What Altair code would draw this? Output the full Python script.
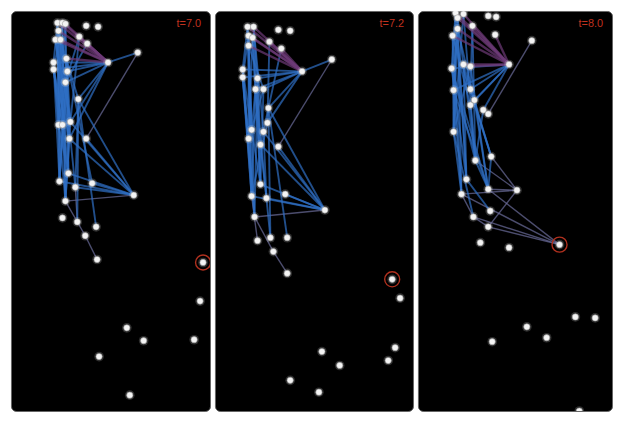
import altair as alt
import pandas as pd

# ---- data (panel-local pixel-like units, origin top-left of each panel) ----
labels = ["t=7.0", "t=7.2", "t=8.0"]

p1_x = [46, 51, 54, 75, 87, 47, 44, 49, 68, 76, 127, 97, 55, 42, 42, 56, 54, 67, 59, 47, 51, 58, 75,
        57, 48, 64, 81, 123, 54, 51, 66, 85, 74, 86, 193, 190, 116, 133, 184, 88, 119]
p1_y = [12, 12, 13, 15, 16, 20, 29, 29, 26, 33, 42, 52, 48, 52, 59, 61, 72, 89, 112, 115, 115, 129, 129,
        164, 172, 178, 174, 186, 192, 209, 213, 218, 227, 251, 254, 293, 320, 333, 332, 349, 388]
p1_red = 34
p1_purple = [(11, a) for a in [0, 1, 2, 5, 6, 7, 8, 9, 12]]
p1_blue = [(11, a) for a in [13, 14, 15, 16, 17, 18, 21]] + [
    (10, 11), (0, 19), (1, 20), (2, 23), (5, 24), (6, 21), (7, 25), (12, 18), (13, 28), (14, 23),
    (15, 19), (16, 24), (17, 25), (12, 26), (8, 18), (9, 16), (19, 23), (20, 24), (21, 28), (18, 28),
    (15, 23), (16, 28), (5, 18), (7, 19), (17, 31), (17, 30), (0, 24), (1, 28), (2, 19), (5, 20),
    (6, 23), (7, 28), (13, 24), (14, 20), (12, 21), (15, 24), (16, 18), (8, 16), (0, 13), (1, 14),
    (2, 16), (5, 15), (6, 18), (7, 17), (13, 19), (14, 21),
    (27, 23), (27, 24), (27, 25), (27, 26), (27, 21), (27, 22), (27, 18), (27, 17)]
p1_gray = [(10, 22), (28, 27), (28, 32), (32, 33), (25, 30)]

p2_x = [31, 37, 62, 74, 32, 36, 53, 65, 32, 116, 86, 26, 26, 41, 39, 47, 52, 51, 35, 47, 32, 44, 62,
        44, 35, 50, 69, 109, 38, 41, 54, 71, 57, 71, 177, 185, 106, 124, 180, 173, 74, 103]
p2_y = [16, 16, 19, 20, 25, 27, 31, 38, 35, 49, 61, 59, 67, 68, 79, 79, 98, 113, 120, 122, 129, 135, 137,
        175, 187, 189, 185, 201, 208, 232, 229, 229, 243, 265, 271, 290, 344, 358, 340, 353, 373, 385]
p2_red = 34
p2_purple = [(10, a) for a in [0, 1, 4, 5, 6, 7, 8]]
p2_blue = [(10, a) for a in [11, 12, 13, 14, 15, 16, 17]] + [
    (9, 10), (0, 18), (1, 19), (4, 20), (5, 23), (8, 24), (11, 20), (12, 24), (13, 21), (14, 18),
    (15, 23), (16, 19), (17, 24), (6, 17), (7, 16), (18, 23), (19, 25), (20, 28), (21, 25), (13, 28),
    (14, 30), (16, 31), (16, 30), (0, 24), (1, 23), (4, 28), (5, 20), (8, 18), (11, 24), (12, 28),
    (13, 23), (14, 24), (15, 18), (0, 11), (1, 13), (4, 12), (5, 14), (8, 15), (11, 18), (12, 20),
    (27, 23), (27, 24), (27, 25), (27, 26), (27, 19), (27, 21), (27, 22), (27, 16)]
p2_gray = [(9, 22), (28, 27), (28, 32), (32, 33), (24, 29)]

p3_x = [34, 42, 36, 67, 75, 36, 51, 74, 111, 31, 88, 49, 42, 30, 32, 49, 53, 49, 62, 67, 32, 70, 54,
        45, 40, 67, 96, 69, 52, 67, 59, 88, 139, 155, 175, 106, 126, 71, 159]
p3_y = [2, 3, 7, 5, 6, 18, 15, 24, 30, 25, 54, 56, 54, 58, 80, 79, 90, 95, 100, 104, 122, 147, 151,
        170, 185, 180, 181, 202, 208, 218, 234, 239, 236, 309, 310, 319, 330, 334, 404]
p3_red = 32
p3_purple = [(10, a) for a in [0, 1, 2, 5, 6, 7, 9, 11, 12]]
p3_blue = [(10, a) for a in [13, 14, 15, 16, 17, 18]] + [
    (0, 20), (2, 22), (5, 23), (9, 24), (13, 23), (14, 24), (15, 21), (16, 25), (17, 22), (11, 20),
    (12, 23), (20, 24), (22, 25), (21, 25), (23, 27), (14, 25), (6, 15), (18, 22), (20, 28), (5, 20),
    (9, 21), (13, 25), (1, 22), (0, 23), (2, 24), (5, 14), (9, 20), (13, 22), (12, 21), (11, 25),
    (0, 13), (2, 14), (5, 16), (9, 17), (1, 20), (6, 22)]
p3_gray = [(8, 19), (21, 26), (22, 26), (24, 26), (25, 26), (32, 24), (32, 25), (32, 29), (32, 28),
           (26, 29), (24, 28), (28, 29)]

panels = [
    (p1_x, p1_y, p1_red, p1_purple, p1_blue, p1_gray),
    (p2_x, p2_y, p2_red, p2_purple, p2_blue, p2_gray),
    (p3_x, p3_y, p3_red, p3_purple, p3_blue, p3_gray),
]

widths = [201, 200, 196]
x_start = [-1, -2, -4]   # small shifts of each panel's x domain
H = 404


def make_panel(label, W, x0, xv, yv, red, purple, blue, gray):
    xs = alt.Scale(domain=[x0, x0 + W])
    ys = alt.Scale(domain=[0, H], reverse=True)
    nodes = pd.DataFrame({"x": xv, "y": yv})
    rows = []
    for kind, pairs in (("gray", gray), ("blue", blue), ("purple", purple)):
        for a, b in pairs:
            rows.append({"x": xv[a], "y": yv[a], "x2": xv[b], "y2": yv[b], "kind": kind})
    edges = pd.DataFrame(rows)
    hi = pd.DataFrame({"x": [xv[red]], "y": [yv[red]]})
    lab = pd.DataFrame({"t": [label]})

    X = alt.X("x:Q", scale=xs, axis=None)
    Y = alt.Y("y:Q", scale=ys, axis=None)
    kinds = ["gray", "blue", "purple"]
    e = alt.Chart(edges).mark_rule(opacity=0.7, clip=True).encode(
        x=X, y=Y, x2="x2:Q", y2="y2:Q",
        color=alt.Color("kind:N", legend=None,
                        scale=alt.Scale(domain=kinds, range=["#6c6e9c", "#2f6fc4", "#6e3a78"])),
        strokeWidth=alt.StrokeWidth("kind:N", legend=None,
                                    scale=alt.Scale(domain=kinds, range=[1.4, 2.4, 1.8])),
    )
    glow = alt.Chart(nodes).mark_circle(size=95, color="#ffffff", opacity=0.18, clip=True).encode(x=X, y=Y)
    n = alt.Chart(nodes).mark_circle(size=40, color="#f4f4f4", opacity=1, clip=True,
                                     stroke="#9a9a9a", strokeWidth=0.6).encode(x=X, y=Y)
    ring = alt.Chart(hi).mark_point(shape="circle", size=230, filled=False, clip=True,
                                    color="#b0301e", strokeWidth=1.4, opacity=1).encode(x=X, y=Y)
    t = alt.Chart(lab).mark_text(align="right", baseline="middle", fontSize=11,
                                 color="#c0321f", font="Liberation Sans").encode(
        text="t:N", x=alt.value(W - 9), y=alt.value(13))
    return alt.layer(e, glow, n, ring, t).properties(width=W, height=H)


charts = [make_panel(lbl, w, x0, *p) for lbl, w, x0, p in zip(labels, widths, x_start, panels)]

chart = alt.hconcat(*charts, spacing=3).properties(
    padding={"left": 2, "top": 0, "right": 0, "bottom": 0},
    background="white",
).configure_view(fill="black", stroke="#666666", strokeWidth=1, cornerRadius=5)

chart.save("out.html", embed_options={"renderer": "svg", "actions": False})
